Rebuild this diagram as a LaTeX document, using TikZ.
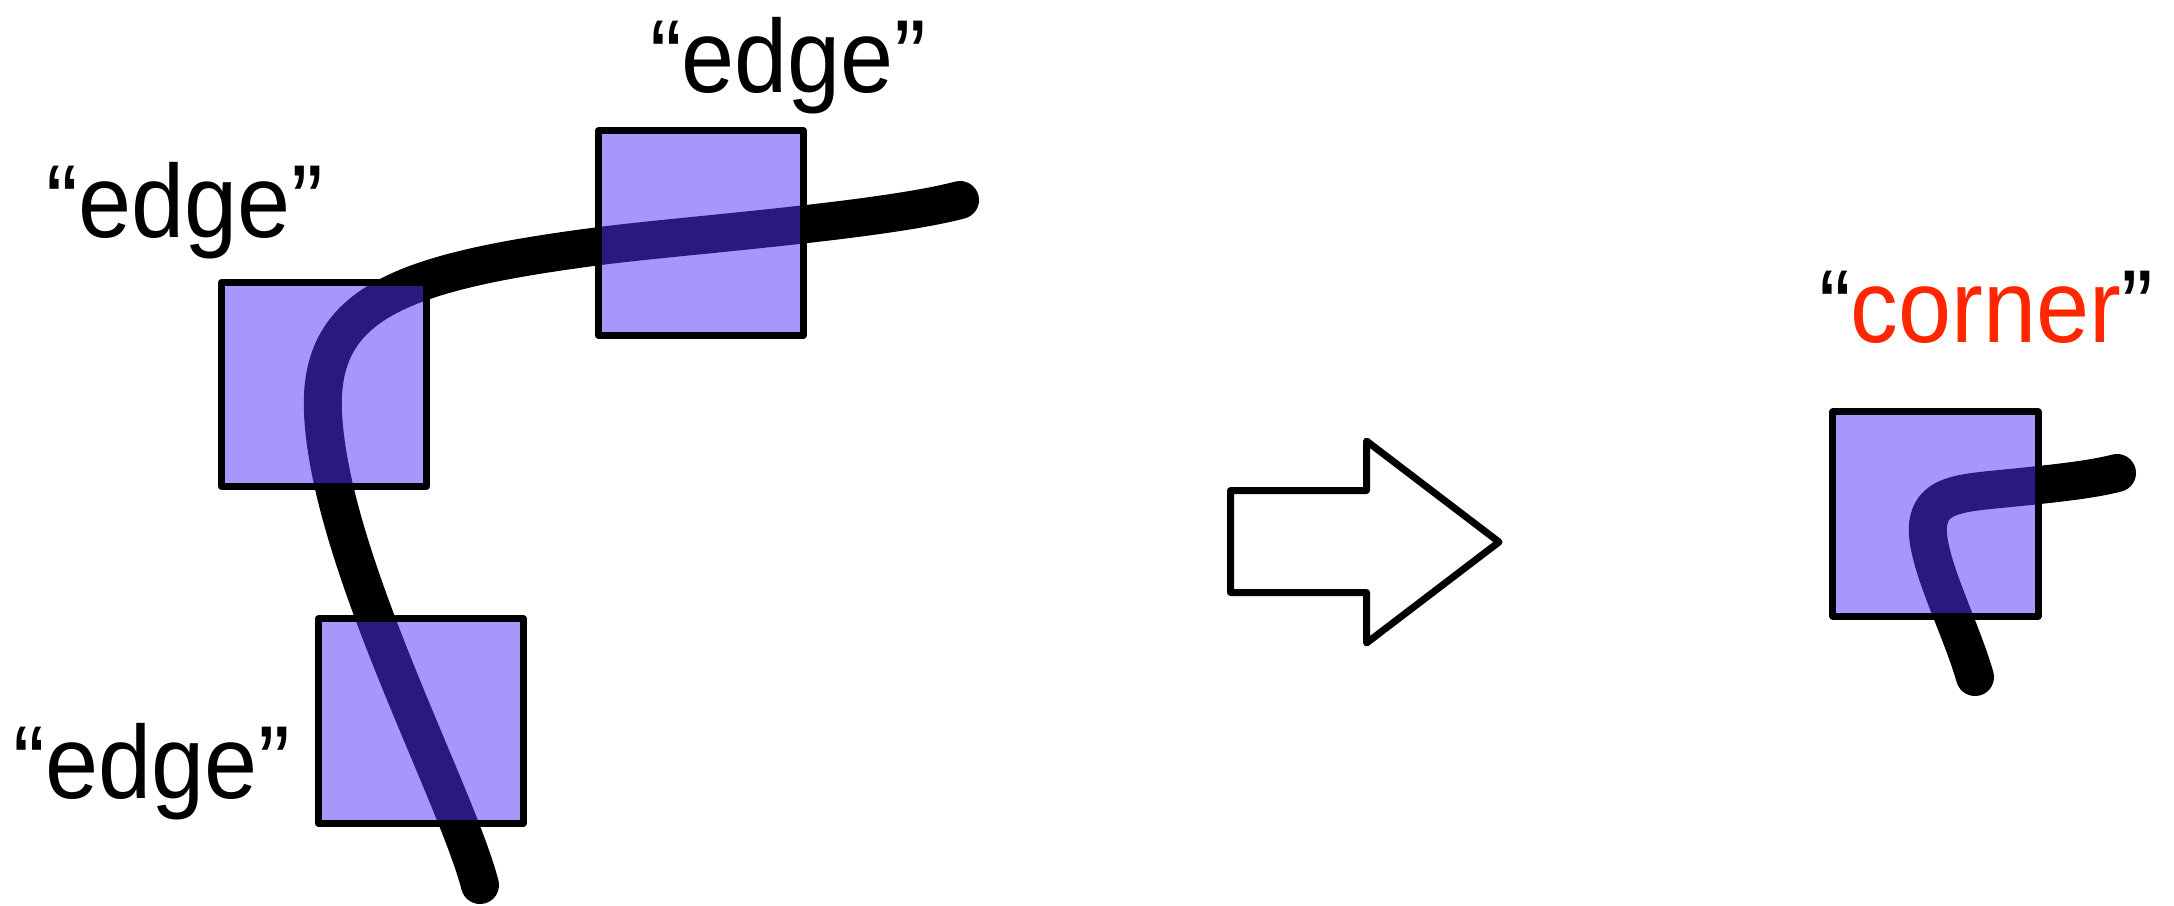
\documentclass[tikz,border=0pt]{standalone}
\usepackage{fontspec}
\setmainfont{Liberation Sans}[FakeStretch=0.92]
\definecolor{boxfill}{RGB}{87,50,248}
\definecolor{cornerred}{RGB}{255,38,0}
\begin{document}
\begin{tikzpicture}[x=0.01cm,y=-0.01cm,
  curve/.style={line width=0.38cm,line cap=round,line join=round,black},
  sqbox/.style={draw=black,line width=0.07cm,line join=round,fill=boxfill,fill opacity=0.515,
    minimum width=2.05cm,minimum height=2.04cm,inner sep=0pt,outer sep=0pt},
  lbl/.style={font=\fontsize{29.5}{34}\selectfont,inner sep=0pt,outer sep=0pt,anchor=base west},
  bigarrow/.style={draw=black,line width=0.07cm,line join=round,fill=white}]
\useasboundingbox (0,0) rectangle (2174,905);
% main curve
\draw[curve] (480,885) .. controls (455,790) and (330,560) .. (323,413)
  .. controls (318,303) and (400,272) .. (600,246)
  .. controls (680,235.6) and (880,221) .. (960,200);
% corner curve
\draw[curve] (1975,677) .. controls (1960,625) and (1925,560) .. (1928,525)
  .. controls (1931,495) and (1960,493) .. (2000,489)
  .. controls (2050,484) and (2090,480) .. (2117,473);
% boxes
\node[sqbox] (boxA) at (701,233) {};
\node[sqbox] (boxB) at (324,384.5) {};
\node[sqbox] (boxC) at (421,721) {};
\node[sqbox] (boxD) at (1935.5,514) {};
% labels
\node[lbl] (lblA) at (650,92) {“edge”};
\node[lbl] (lblB) at (47,237) {“edge”};
\node[lbl] (lblC) at (14,798) {“edge”};
\node[lbl] (lblD) at (1819,342) {“\textcolor{cornerred}{corner}”};
% block arrow
\draw[bigarrow] (1230.5,490.5) -- (1366.5,490.5) -- (1366.5,441) -- (1499,542)
  -- (1366.5,643) -- (1366.5,592.5) -- (1230.5,592.5) -- cycle;
\end{tikzpicture}
\end{document}
